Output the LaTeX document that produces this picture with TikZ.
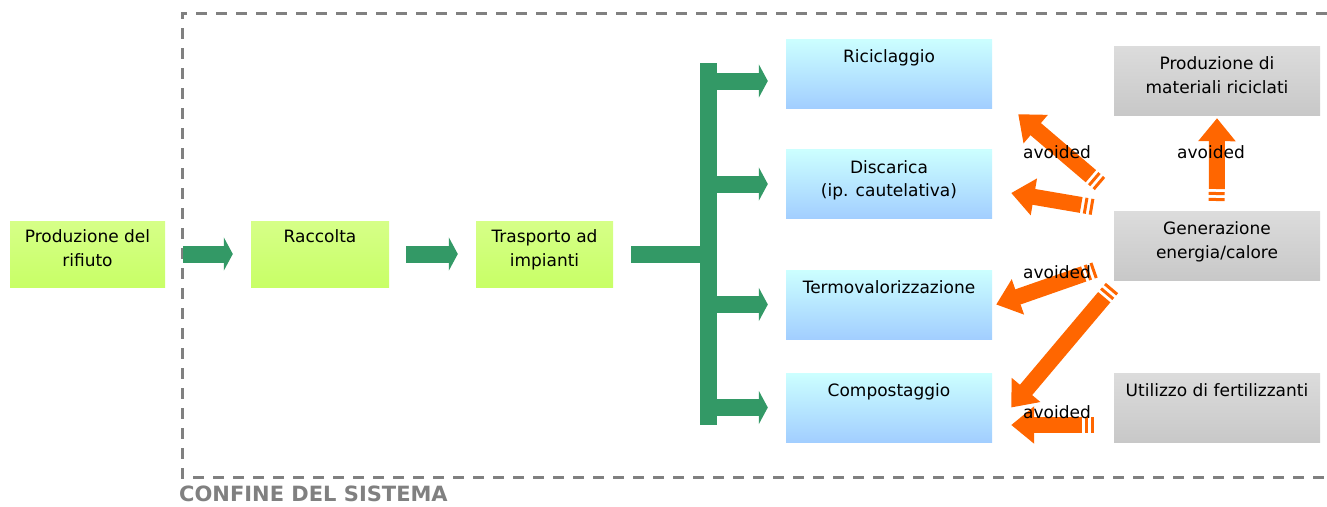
\documentclass[tikz,border=0pt]{standalone}
\usepackage{fontspec}
\setmainfont{DejaVu Sans}
\usetikzlibrary{arrows.meta}

\definecolor{flowgreen}{HTML}{339966}
\definecolor{avoidorange}{HTML}{FF6600}
\definecolor{limetop}{HTML}{D6FF88}
\definecolor{limebot}{HTML}{C8FF66}
\definecolor{skytop}{HTML}{CCFFFF}
\definecolor{skybot}{HTML}{A2CEFF}
\definecolor{greytop}{HTML}{DCDCDC}
\definecolor{greybot}{HTML}{C8C8C8}
\definecolor{borderline}{HTML}{808080}

\tikzset{
  box/.style={minimum width=206pt, minimum height=69pt, inner sep=0pt},
  greenbox/.style={box, top color=limetop, bottom color=limebot, minimum height=66pt},
  bluebox/.style={box, top color=skytop, bottom color=skybot},
  greybox/.style={box, top color=greytop, bottom color=greybot},
  boxtext/.style={anchor=north, inner sep=0pt, yshift=-11pt, align=center,
    font=\fontsize{17}{23.5}\selectfont},
  avtext/.style={inner sep=0pt, font=\fontsize{17}{23.5}\selectfont},
  greenline/.style={draw=flowgreen, line width=17pt},
  greenarrow/.style={greenline, -{Triangle[width=33pt, length=9pt]}},
  avoided/.style={draw=avoidorange, line width=16pt,
    dash pattern=on 3pt off 3pt on 3pt off 3pt on 2000pt off 1pt,
    -{Triangle[width=36pt, length=23pt]}},
}

\begin{document}
\begin{tikzpicture}[x=1pt, y=-1pt]
  \useasboundingbox (0,0) rectangle (1327,506);

  % system boundary
  \draw[borderline, line width=3pt, dash pattern=on 11pt off 9pt]
    (1327,13) -- (182,13) -- (182,477) -- (1327,477);
  \node[anchor=west, inner sep=0pt, text=borderline,
    font=\bfseries\fontsize{21}{25}\selectfont] (confine) at (179,494) {CONFINE DEL SISTEMA};

  % collection chain
  \node[greenbox, minimum width=155pt] (prod) at (87.5,254) {};
  \node[greenbox, minimum width=138pt] (racc) at (320,254) {};
  \node[greenbox, minimum width=137pt] (trasp) at (544.5,254) {};
  \node[boxtext, yshift=2pt] (prod-t) at (prod.north) {Produzione del\\rifiuto};
  \node[boxtext, yshift=2pt] (racc-t) at (racc.north) {Raccolta};
  \node[boxtext, yshift=2pt] (trasp-t) at (trasp.north) {Trasporto ad\\impianti};

  % treatments
  \node[bluebox] (ricic) at (889,73.5) {};
  \node[bluebox] (disc) at (889,184) {};
  \node[bluebox] (termo) at (889,304.5) {};
  \node[bluebox] (compo) at (889,407.5) {};
  \node[boxtext] (ricic-t) at (ricic.north) {Riciclaggio};
  \node[boxtext] (disc-t) at (disc.north) {Discarica\\(ip. cautelativa)};
  \node[boxtext] (termo-t) at (termo.north) {Termovalorizzazione};
  \node[boxtext] (compo-t) at (compo.north) {Compostaggio};

  % avoided productions
  \node[greybox] (matric) at (1217,80.5) {};
  \node[greybox] (energ) at (1217,245.5) {};
  \node[greybox] (fert) at (1217,407.5) {};
  \node[boxtext] (matric-t) at (matric.north) {Produzione di\\materiali riciclati};
  \node[boxtext] (energ-t) at (energ.north) {Generazione\\energia/calore};
  \node[boxtext] (fert-t) at (fert.north) {Utilizzo di fertilizzanti};

  % green flow
  \coordinate (bar-top) at (708.5,63);
  \coordinate (bar-bot) at (708.5,425);
  \draw[greenarrow] ([xshift=18pt]prod.east) -- ([xshift=-18pt]racc.west);
  \draw[greenarrow] ([xshift=17pt]racc.east) -- ([xshift=-18pt]trasp.west);
  \draw[greenline] ([xshift=18pt]trasp.east) -- (trasp.east -| bar-top);
  \draw[greenline] (bar-top) -- (bar-bot);
  \foreach \b/\dy in {ricic/-7.5, disc/0, termo/0, compo/0}
    \draw[greenarrow] ([yshift=\dy pt]\b.west -| bar-top) -- ([xshift=-18pt, yshift=\dy pt]\b.west);

  % avoided arrows
  \coordinate (av1) at (1100,184);
  \coordinate (av2) at (1093,207);
  \coordinate (av3) at (1095,270);
  \coordinate (av4) at (1112,288);
  \coordinate (av5) at (1094,425);
  \coordinate (av6) at (1216.7,201);
  \draw[avoided] (av1) -- ([xshift=26pt, yshift=-6pt]ricic.south east);
  \draw[avoided] (av2) -- ([xshift=19pt, yshift=-9pt]disc.east);
  \draw[avoided] (av3) -- ([xshift=4pt]termo.east);
  \draw[avoided] (av4) -- ([xshift=19pt]compo.east);
  \draw[avoided] (av5) -- ([xshift=19pt, yshift=-17.5pt]compo.east);
  \draw[avoided] (av6) -- ([yshift=-3pt]matric.south);

  \node[avtext] (av-ric) at (1057,152) {avoided};
  \node[avtext] (av-termo) at (1057,272) {avoided};
  \node[avtext] (av-compo) at (1057,412) {avoided};
  \node[avtext] (av-mat) at (1211,152) {avoided};
\end{tikzpicture}
\end{document}
